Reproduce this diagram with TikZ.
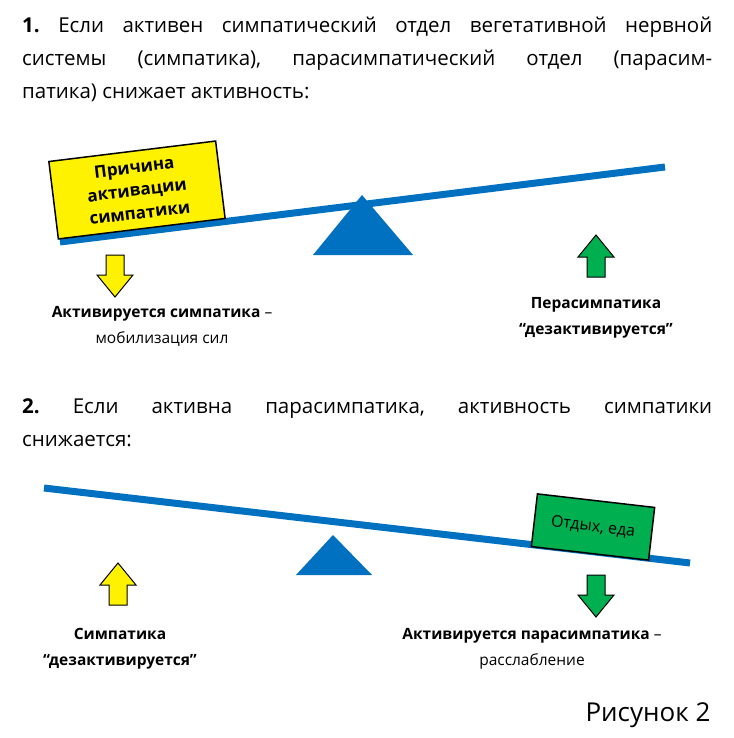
\documentclass[tikz,border=0pt]{standalone}
\usepackage{fontspec}
\setmainfont{Open Sans}
\frenchspacing
\begin{document}
\begin{tikzpicture}[x=1pt,y=-1pt,
 beam/.style={line width=7pt,draw={rgb,255:red,0;green,112;blue,192}},
 fulc/.style={fill={rgb,255:red,0;green,112;blue,192}},
 para/.style={font=\frenchspacing\fontsize{20.5}{33}\selectfont,text width=690pt,align=justify,anchor=north west,inner sep=0},
 lab/.style={font=\fontsize{15.5}{26}\selectfont,align=center},
 box/.style={draw=black,line width=1.5pt,font=\bfseries\fontsize{17}{23}\selectfont,align=center}]
\useasboundingbox (0,0) rectangle (733,738);
\def\downarrow#1#2#3{\filldraw[fill=#3,draw=black,line width=1pt] (#1-9,#2) -- (#1+9,#2) -- (#1+9,#2+20) -- (#1+18,#2+20) -- (#1,#2+42) -- (#1-18,#2+20) -- (#1-9,#2+20) -- cycle;}
\def\uparrow#1#2#3{\filldraw[fill=#3,draw=black,line width=1pt] (#1-9,#2+42) -- (#1+9,#2+42) -- (#1+9,#2+22) -- (#1+18,#2+22) -- (#1,#2) -- (#1-18,#2+22) -- (#1-9,#2+22) -- cycle;}
\node[para] (p1) at (22,17) {\textbf{1.} Если активен симпатический отдел вегетативной нервной\linebreak системы (симпатика), парасимпатический отдел (парасим-\linebreak патика) снижает активность:};
\draw[beam] (60,242) -- (665,167);
\fill[fulc] (362,195) -- (413,255) -- (313,255) -- cycle;
\node[box,fill=yellow,minimum width=168pt,minimum height=78pt,rotate=7] (c1) at (137,190) {Причина\\активации\\симпатики};
\downarrow{115}{255}{yellow}
\uparrow{596}{235}{{rgb,255:red,0;green,176;blue,80}}
\node[lab] (l1) at (162,326) {\textbf{Активируется симпатика} –\\мобилизация сил};
\node[lab,font=\bfseries\fontsize{15.5}{26}\selectfont] (l2) at (596,318) {Перасимпатика\\“дезактивируется”};
\node[para] (p2) at (22,398) {\textbf{2.} Если активна парасимпатика, активность симпатики\linebreak снижается:};
\draw[beam] (44,488) -- (690,563);
\fill[fulc] (333,535) -- (372,575) -- (296,575) -- cycle;
\node[box,fill={rgb,255:red,0;green,176;blue,80},font=\fontsize{16}{20}\selectfont,minimum width=118pt,minimum height=53pt,rotate=-6.6] (c2) at (593,527) {Отдых, еда};
\uparrow{118}{563}{yellow}
\downarrow{596}{575}{{rgb,255:red,0;green,176;blue,80}}
\node[lab,font=\bfseries\fontsize{15.5}{26}\selectfont] (l3) at (120,649) {Симпатика\\“дезактивируется”};
\node[lab] (l4) at (532,649) {\textbf{Активируется парасимпатика} –\\расслабление};
\node[font=\fontsize{26}{30}\selectfont] (fig) at (648,715) {Рисунок 2};
\end{tikzpicture}
\end{document}
